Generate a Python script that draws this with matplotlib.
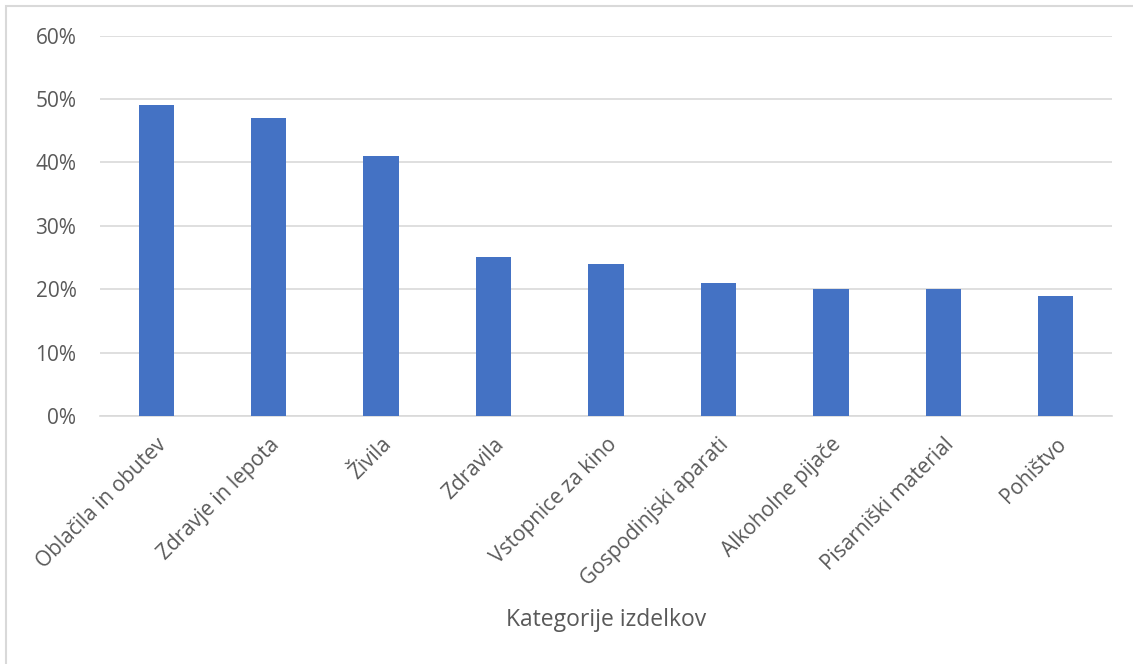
import matplotlib
matplotlib.use("Agg")
import matplotlib.pyplot as plt
from matplotlib.ticker import PercentFormatter, MultipleLocator
from matplotlib.patches import Rectangle

categories = ["Oblačila in obutev", "Zdravje in lepota", "Živila", "Zdravila",
              "Vstopnice za kino", "Gospodinjski aparati", "Alkoholne pijače",
              "Pisarniški material", "Pohištvo"]
values = [49, 47, 41, 25, 24, 21, 20, 20, 19]
x_title = "Kategorije izdelkov"

plt.rcParams['font.family'] = ['Open Sans', 'DejaVu Sans']
W, H = 1133, 664
fig = plt.figure(figsize=(W/100, H/100), dpi=100)
ax = fig.add_axes([100/W, 1-416/H, (1112-100)/W, (416-35.5)/H])

xs = list(range(len(categories)))
ax.bar(xs, values, width=0.314, color="#4472C4", zorder=3)
ax.set_xlim(-0.5, len(categories)-0.5)
ax.set_ylim(0, 60)
ax.yaxis.set_major_locator(MultipleLocator(10))
ax.yaxis.set_major_formatter(PercentFormatter(decimals=0))
ax.grid(axis='y', color="#D9D9D9", linewidth=1.2, zorder=0)
for s in ['top', 'right', 'left']:
    ax.spines[s].set_visible(False)
ax.spines['bottom'].set_color("#D9D9D9")
ax.spines['bottom'].set_linewidth(1.2)
ax.tick_params(axis='both', length=0, labelsize=15, labelcolor="#595959")
ax.tick_params(axis='y', pad=17)
ax.set_xticks(xs)
ax.set_xticklabels(categories, rotation=45, ha='right', va='top', rotation_mode='anchor')
ax.tick_params(axis='x', pad=13)
fig.text((100+1112)/2/W, 1-620/H, x_title, ha='center', va='center', fontsize=16.5, color="#595959")

fig.patches.append(Rectangle((6/W, -0.1), 1.2, 1-6/H+0.1, transform=fig.transFigure,
                             fill=False, edgecolor="#D9D9D9", linewidth=1.5))
fig.savefig("out.png", dpi=100)
